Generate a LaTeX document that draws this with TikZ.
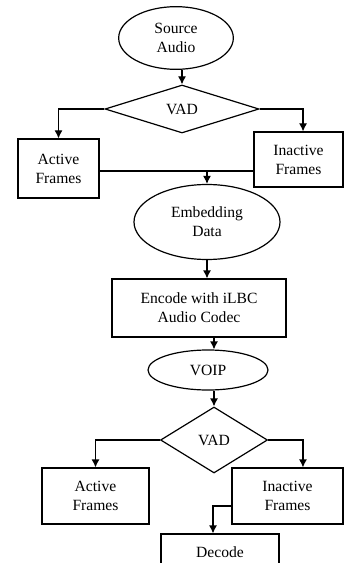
\documentclass[tikz,border=0pt]{standalone}
\usepackage{fontspec}
\setmainfont{Liberation Serif}
\usetikzlibrary{positioning,arrows.meta,shapes.geometric}
\tikzset{
  oval/.style={ellipse, draw, line width=0.9pt, inner sep=0pt, align=center},
  boxnode/.style={rectangle, draw, line width=0.9pt, inner sep=0pt, align=center},
  decision/.style={diamond, draw, line width=0.9pt, inner sep=0pt, aspect=2},
  fwd/.style={-{Latex[length=6pt,width=6pt]}, line width=0.9pt},
  link/.style={line width=0.9pt},
}

\begin{document}
\begin{tikzpicture}[x=0.75pt, y=-0.75pt, font=\fontsize{11.7}{14.3}\selectfont]
  \useasboundingbox (0,0) rectangle (344,563);
  \clip (0,0) rectangle (344,563);

  \node[oval, minimum width=86pt, minimum height=47pt] (src) at (176,38) {Source\\Audio};
  \node[decision, minimum width=115.5pt, minimum height=36pt] (vad1) at (182,109) {VAD};
  \node[boxnode, minimum width=60.75pt, minimum height=44.25pt] (act1) at (58.5,168.5) {Active\\Frames};
  \node[boxnode, minimum width=66.75pt, minimum height=41.25pt] (inact1) at (298.5,159.5) {Inactive\\Frames};
  \node[oval, minimum width=109.5pt, minimum height=56.25pt] (emb) at (207,222) {Embedding\\Data};
  \node[boxnode, minimum width=130.5pt, minimum height=43.5pt] (enc) at (199,308) {Encode with iLBC\\Audio Codec};
  \node[oval, minimum width=90pt, minimum height=30pt] (voip) at (208,370) {VOIP};
  \node[decision, minimum width=80.25pt, minimum height=49.5pt] (vad2) at (214,440) {VAD};
  \node[boxnode, minimum width=80.25pt, minimum height=42pt] (act2) at (95.5,496) {Active\\Frames};
  \node[boxnode, minimum width=83.25pt, minimum height=42pt] (inact2) at (287.5,496) {Inactive\\Frames};
  \node[boxnode, minimum width=88.5pt, minimum height=27pt] (dec) at (220,552) {Decode};
  \coordinate (merge) at (207,171);

  % upper half
  \draw[fwd] (vad1.north |- src.south) -- (vad1.north);
  \draw[fwd] (vad1.west) -| (act1.north);
  \draw[fwd] (vad1.east) -| ([xshift=3.4pt]inact1.north);
  \draw[link] (act1.east |- merge) -- (merge);
  \draw[link] (inact1.west |- merge) -- (merge);
  \draw[fwd] (merge) -- (emb.north);
  \draw[fwd] (emb.south) -- (emb.south |- enc.north);

  % lower half
  \draw[fwd] (vad2.north |- enc.south) -- (vad2.north |- voip.north);
  \draw[fwd] (vad2.north |- voip.south) -- (vad2.north);
  \draw[fwd] (vad2.west) -| (act2.north);
  \draw[fwd] (vad2.east) -| ([xshift=11.6pt]inact2.north);
  \draw[fwd] ([yshift=-7.5pt]inact2.west) -| ([xshift=-5.25pt]dec.north);
\end{tikzpicture}
\end{document}
